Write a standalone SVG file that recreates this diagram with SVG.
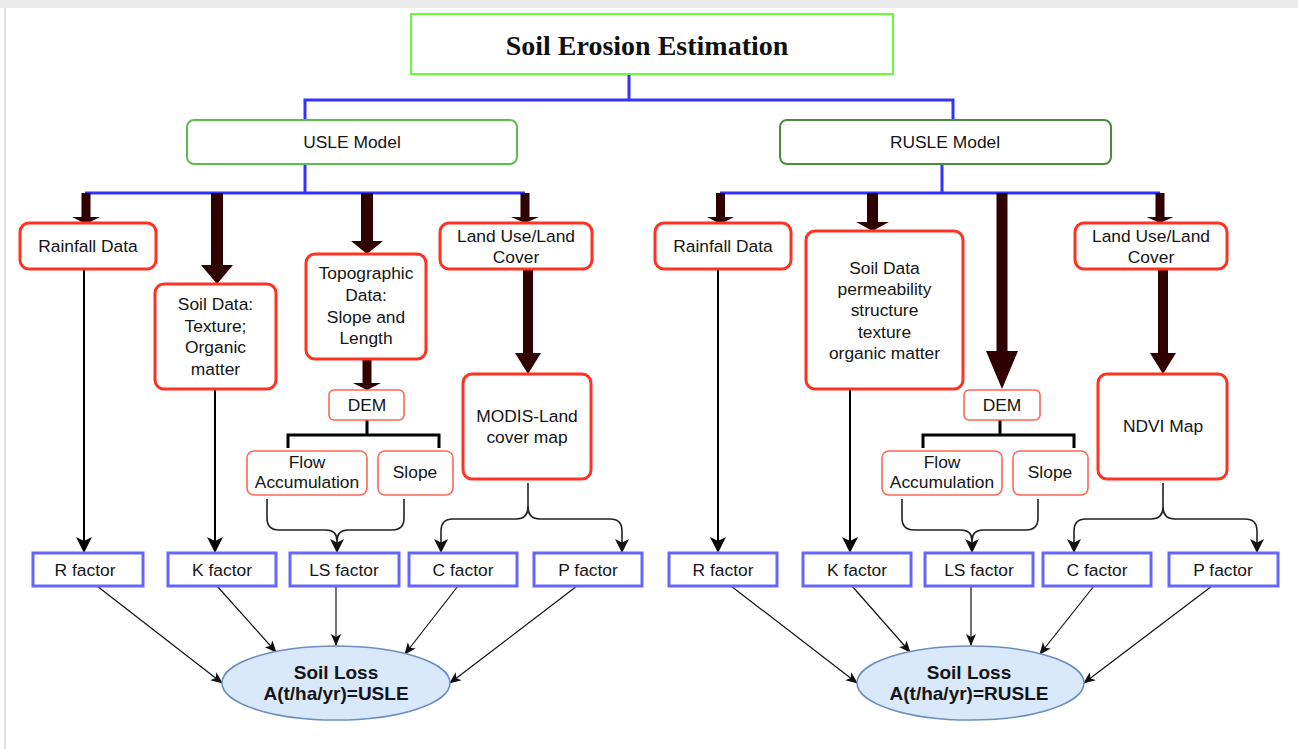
<svg xmlns="http://www.w3.org/2000/svg" width="1298" height="749" viewBox="0 0 1298 749">
<style>
text{font-family:"Liberation Sans",Arial,sans-serif;font-size:17.4px;fill:#151515;text-anchor:middle;dominant-baseline:central}
.title{font-family:"Liberation Serif","Times New Roman",serif;font-size:28px;font-weight:bold;fill:#111}
.bold{font-weight:bold;font-size:19px}
.red{fill:#fff;stroke:#ff3322;stroke-width:3}
.redthin{fill:#fff;stroke:#ff6655;stroke-width:1.6}
.fac{fill:#fff;stroke:#6666ff;stroke-width:3}
.blue{fill:none;stroke:#3333ff;stroke-width:3}
.thick{fill:#300000}
.thin{fill:none;stroke:#000;stroke-width:2}
.brk{fill:none;stroke:#000;stroke-width:3}
.brace{fill:none;stroke:#222;stroke-width:1.6}
.fine{fill:none;stroke:#111;stroke-width:1.2}
</style>
<defs>
<marker id="ah" viewBox="0 0 16 16" markerWidth="16" markerHeight="16" refX="14" refY="8" orient="auto" markerUnits="userSpaceOnUse"><path d="M0,0 L16,8 L0,16 L4,8 Z" fill="#000"/></marker>
<marker id="ahm" viewBox="0 0 14 14" markerWidth="14" markerHeight="14" refX="12" refY="7" orient="auto" markerUnits="userSpaceOnUse"><path d="M0,0 L14,7 L0,14 L3.5,7 Z" fill="#111"/></marker>
<marker id="ahs" viewBox="0 0 12 12" markerWidth="12" markerHeight="12" refX="11" refY="6" orient="auto" markerUnits="userSpaceOnUse"><path d="M0,1 L12,6 L0,11 L3,6 Z" fill="#111"/></marker>
</defs>
<rect x="0" y="0" width="1298" height="749" fill="#fff"/>
<rect x="0" y="0" width="1298" height="8" fill="#ececec"/>
<rect x="4" y="8" width="2" height="741" fill="#e2e2e2"/>

<g id="connectors">
<path class="blue" d="M629,74 V100 M305,120 V100 H953 V120"/>
<path class="blue" d="M305,164 V193 M85,193 H525"/>
<path class="blue" d="M942,164 V193 M720,193 H1160"/>
<path class="thick" d="M81.5,193 H90.5 V217 H100 L86,224 L72,217 H81.5 Z"/>
<path class="thick" d="M211,193 H223 V265 H233 L217,284 L201,265 H211 Z"/>
<path class="thick" d="M361,193 H373 V241 H383 L367,254 L351,241 H361 Z"/>
<path class="thick" d="M520.5,193 H529.5 V217 H539 L525,223 L511,217 H520.5 Z"/>
<path class="thick" d="M362.5,359 H371.5 V383 H381 L367,390 L353,383 H362.5 Z"/>
<path class="thick" d="M523,269 H533 V353 H541 L528,374 L515,353 H523 Z"/>
<path class="thick" d="M716,193 H725 V217 H734 L720.5,224 L707,217 H716 Z"/>
<path class="thick" d="M867,193 H878 V222 H889 L872.5,231 L856,222 H867 Z"/>
<path class="thick" d="M996.5,193 H1007.5 V351 H1018 L1002,389 L986,351 H996.5 Z"/>
<path class="thick" d="M1155.5,193 H1164.5 V217 H1173.5 L1160,223 L1146.5,217 H1155.5 Z"/>
<path class="thick" d="M1158,269 H1168 V353 H1176 L1163,374 L1150,353 H1158 Z"/>
<path class="thin" d="M84,269 V551" marker-end="url(#ah)"/>
<path class="thin" d="M215,389 V551" marker-end="url(#ah)"/>
<path class="thin" d="M718,269 V551" marker-end="url(#ah)"/>
<path class="thin" d="M850,389 V551" marker-end="url(#ah)"/>
<path class="brk" d="M367,420 V435 M288,448 V435 H439 V448"/>
<path class="brk" d="M1000,420 V435 M923,448 V435 H1074 V448"/>
<path class="brace" d="M267,499 V518 Q267,530 279,530 H326 Q337,530 337,541 V551" marker-end="url(#ahm)"/>
<path class="brace" d="M404,499 V518 Q404,530 392,530 H348 Q337,530 337,541"/>
<path class="brace" d="M902,499 V518 Q902,530 914,530 H961 Q972,530 972,541 V551" marker-end="url(#ahm)"/>
<path class="brace" d="M1038,499 V518 Q1038,530 1026,530 H983 Q972,530 972,541"/>
<path class="brace" d="M528,483 V507 Q528,519 516,519 H453 Q441,519 441,531 V551" marker-end="url(#ahm)"/>
<path class="brace" d="M528,507 Q528,519 540,519 H610 Q622,519 622,531 V551" marker-end="url(#ahm)"/>
<path class="brace" d="M1163,483 V507 Q1163,519 1151,519 H1086 Q1074,519 1074,531 V551" marker-end="url(#ahm)"/>
<path class="brace" d="M1163,507 Q1163,519 1175,519 H1245 Q1257,519 1257,531 V551" marker-end="url(#ahm)"/>
<path class="fine" d="M97,586 L222,683" marker-end="url(#ahs)"/>
<path class="fine" d="M217,586 L276,652" marker-end="url(#ahs)"/>
<path class="fine" d="M336,586 L336,645" marker-end="url(#ahs)"/>
<path class="fine" d="M458,586 L405,654" marker-end="url(#ahs)"/>
<path class="fine" d="M577,586 L450,683" marker-end="url(#ahs)"/>
<path class="fine" d="M731,586 L857,683" marker-end="url(#ahs)"/>
<path class="fine" d="M852,586 L910,652" marker-end="url(#ahs)"/>
<path class="fine" d="M971,586 L971,645" marker-end="url(#ahs)"/>
<path class="fine" d="M1094,586 L1040,654" marker-end="url(#ahs)"/>
<path class="fine" d="M1212,586 L1084,683" marker-end="url(#ahs)"/>
</g>

<g id="title"><rect x="411" y="14" width="482" height="60" fill="#fff" stroke="#66ff33" stroke-width="2"/><text class="title" x="647" y="45">Soil Erosion Estimation</text></g>
<g id="usle"><rect x="187" y="120" width="330" height="44" rx="7" fill="#fff" stroke="#5cbf4a" stroke-width="2"/><text x="352" y="142">USLE Model</text></g>
<g id="rusle"><rect x="780" y="120" width="331" height="44" rx="7" fill="#fff" stroke="#4a8c3c" stroke-width="2"/><text x="945" y="142">RUSLE Model</text></g>

<g id="u_rain"><rect class="red" x="20" y="223" width="136" height="46" rx="9"/><text x="88" y="246">Rainfall Data</text></g>
<g id="u_soil"><rect class="red" x="155" y="284" width="121" height="105" rx="9"/><text x="215.5" y="304">Soil Data:</text><text x="215.5" y="326">Texture;</text><text x="215.5" y="347">Organic</text><text x="215.5" y="369">matter</text></g>
<g id="u_topo"><rect class="red" x="306" y="254" width="120" height="105" rx="9"/><text x="366" y="273">Topographic</text><text x="366" y="295">Data:</text><text x="366" y="317">Slope and</text><text x="366" y="338">Length</text></g>
<g id="u_dem"><rect class="redthin" x="329" y="390" width="75" height="30" rx="5"/><text x="367" y="405">DEM</text></g>
<g id="u_flow"><rect class="redthin" x="247" y="451" width="120" height="44" rx="7"/><text x="307" y="462">Flow</text><text x="307" y="482">Accumulation</text></g>
<g id="u_slope"><rect class="redthin" x="378" y="451" width="75" height="44" rx="7"/><text x="415" y="472">Slope</text></g>
<g id="u_land"><rect class="red" x="440" y="223" width="152" height="46" rx="9"/><text x="516" y="236">Land Use/Land</text><text x="516" y="257">Cover</text></g>
<g id="u_modis"><rect class="red" x="463" y="374" width="128" height="105" rx="9"/><text x="527" y="416">MODIS-Land</text><text x="527" y="437">cover map</text></g>
<g id="u_r"><rect class="fac" x="33" y="553" width="110" height="33"/><text x="85" y="570">R factor</text></g>
<g id="u_k"><rect class="fac" x="168" y="553" width="108" height="33"/><text x="222" y="570">K factor</text></g>
<g id="u_ls"><rect class="fac" x="290" y="553" width="109" height="33"/><text x="344" y="570">LS factor</text></g>
<g id="u_c"><rect class="fac" x="409" y="553" width="108" height="33"/><text x="463" y="570">C factor</text></g>
<g id="u_p"><rect class="fac" x="534" y="553" width="108" height="33"/><text x="588" y="570">P factor</text></g>
<g id="u_loss"><ellipse cx="336" cy="683" rx="114" ry="37" fill="#dae8fc" stroke="#6c8ebf" stroke-width="1.5"/><text class="bold" x="336" y="672">Soil Loss</text><text class="bold" x="336" y="693">A(t/ha/yr)=USLE</text></g>

<g id="r_rain"><rect class="red" x="655" y="223" width="136" height="46" rx="9"/><text x="723" y="246">Rainfall Data</text></g>
<g id="r_soil"><rect class="red" x="806" y="231" width="157" height="158" rx="9"/><text x="884.5" y="268">Soil Data</text><text x="884.5" y="289">permeability</text><text x="884.5" y="310">structure</text><text x="884.5" y="332">texture</text><text x="884.5" y="353">organic matter</text></g>
<g id="r_dem"><rect class="redthin" x="964" y="390" width="76" height="30" rx="5"/><text x="1002" y="405">DEM</text></g>
<g id="r_flow"><rect class="redthin" x="882" y="451" width="120" height="44" rx="7"/><text x="942" y="462">Flow</text><text x="942" y="482">Accumulation</text></g>
<g id="r_slope"><rect class="redthin" x="1013" y="451" width="75" height="44" rx="7"/><text x="1050" y="472">Slope</text></g>
<g id="r_land"><rect class="red" x="1075" y="223" width="152" height="46" rx="9"/><text x="1151" y="236">Land Use/Land</text><text x="1151" y="257">Cover</text></g>
<g id="r_ndvi"><rect class="red" x="1098" y="374" width="129" height="105" rx="9"/><text x="1163" y="426">NDVI Map</text></g>
<g id="r_r"><rect class="fac" x="669" y="553" width="108" height="33"/><text x="723" y="570">R factor</text></g>
<g id="r_k"><rect class="fac" x="803" y="553" width="108" height="33"/><text x="857" y="570">K factor</text></g>
<g id="r_ls"><rect class="fac" x="925" y="553" width="108" height="33"/><text x="979" y="570">LS factor</text></g>
<g id="r_c"><rect class="fac" x="1043" y="553" width="108" height="33"/><text x="1097" y="570">C factor</text></g>
<g id="r_p"><rect class="fac" x="1169" y="553" width="109" height="33"/><text x="1223" y="570">P factor</text></g>
<g id="r_loss"><ellipse cx="970.5" cy="683" rx="113.5" ry="37" fill="#dae8fc" stroke="#6c8ebf" stroke-width="1.5"/><text class="bold" x="969" y="672">Soil Loss</text><text class="bold" x="969" y="693">A(t/ha/yr)=RUSLE</text></g>
</svg>
